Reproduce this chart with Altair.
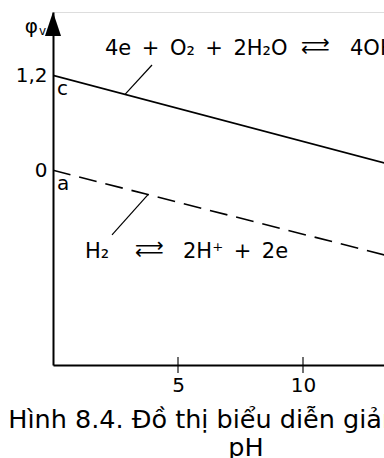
import altair as alt
import pandas as pd

# pH span of the two equilibrium lines
ph_ends = [0, 14]
# O2 / H2O couple (solid) and H2 / H+ couple (dashed), potential in V
phi_oxygen = [1.2, 0.03]
phi_hydrogen = [0.0, -1.13]

# axis values
x_tick_values = [5, 10]
y_label_values = [0, 1.2]

# reaction labels: left side, right side (en spaces keep the wide gaps)
oxygen_parts = ["4e\u2002+\u2002O\u2082\u2002+\u20022H\u2082O", "4OH\u207b"]
hydrogen_parts = ["H\u2082", "2H\u207a\u2002+\u20022e"]
reaction_ph = [2.08, 1.28]
reaction_phi = [1.457, -1.11]

# leader lines from each label to its line
leader_ph = [3.96, 2.36]
leader_phi = [1.33, -0.817]
leader_end_ph = [2.88, 3.8]
leader_end_phi = [0.96, -0.307]

# letters marking the start of each line
point_text = ["c", "a"]
point_ph = [0, 0]
point_phi = [1.2, 0.0]

caption = ["H\u00ecnh 8.4. \u0110\u1ed3 th\u1ecb bi\u1ec3u di\u1ec5n gi\u1ea3n \u0111\u1ed3 \u03c6 \u2013", "pH"]

x_domain = [0, 13.24]
y_domain = [-2.46, 2.0]

W, H = 331, 353
FONT = "DejaVu Sans"

lines = pd.DataFrame({
    "pH": ph_ends * 2,
    "phi": phi_oxygen + phi_hydrogen,
    "couple": ["O2"] * 2 + ["H2"] * 2,
})
leaders = pd.DataFrame({"pH": leader_ph, "phi": leader_phi,
                        "pH2": leader_end_ph, "phi2": leader_end_phi})
points = pd.DataFrame({"text": point_text, "pH": point_ph, "phi": point_phi})
ticks = pd.DataFrame({"pH": x_tick_values, "phi": [y_domain[0]] * len(x_tick_values)})

x_scale = alt.Scale(domain=x_domain, nice=False, zero=False)
y_scale = alt.Scale(domain=y_domain, nice=False, zero=False)

x_axis = alt.Axis(values=x_tick_values, ticks=False, tickSize=0, grid=False,
                  domainColor="black", domainWidth=2, labelFont=FONT,
                  labelFontSize=20, labelColor="black", labelPadding=10, title=None)
y_axis = alt.Axis(values=y_label_values, ticks=False, tickSize=0, grid=False,
                  domainColor="black", domainWidth=2, labelFont=FONT,
                  labelFontSize=20, labelColor="black", labelPadding=6,
                  labelExpr="replace(format(datum.value, '.1~f'), '.', ',')", title=None)

X = alt.X("pH:Q", scale=x_scale, axis=x_axis)
Y = alt.Y("phi:Q", scale=y_scale, axis=y_axis)

oxygen = alt.Chart(lines).transform_filter("datum.couple == 'O2'").mark_line(
    color="black", strokeWidth=1.6, clip=True).encode(x=X, y=Y)
hydrogen = alt.Chart(lines).transform_filter("datum.couple == 'H2'").mark_line(
    color="black", strokeWidth=1.6, strokeDash=[18, 9], clip=True).encode(x=X, y=Y)

leader_rules = alt.Chart(leaders).mark_rule(color="black", strokeWidth=1.2).encode(
    x=X, y=Y, x2="pH2:Q", y2="phi2:Q")

tick_marks = alt.Chart(ticks).mark_tick(
    orient="vertical", size=16, thickness=1.6, color="black", clip=False).encode(x=X, y=Y)

# arrow head on top of the potential axis
px_per_unit = H / (y_domain[1] - y_domain[0])
arrow = alt.Chart(pd.DataFrame({"pH": [x_domain[0]], "phi": [y_domain[1] - 12 / px_per_unit]})).mark_point(
    shape="M0,-1L0.67,1L-0.67,1Z", size=576, filled=True, color="black",
    opacity=1, strokeWidth=0, clip=False).encode(x=X, y=Y)


def text_at(ph, phi, text, dx=0, dy=0, size=20, align="left", line_height=None):
    anchor = pd.DataFrame({"pH": [ph], "phi": [phi]})
    extra = {"lineHeight": line_height} if line_height else {}
    return alt.Chart(anchor).mark_text(
        align=align, baseline="alphabetic", font=FONT, fontSize=size, color="black",
        dx=dx, dy=dy, clip=False, **extra).encode(x=X, y=Y, text=alt.value(text))


def equilibrium_arrow(ph, phi, dx):
    # forward arrow over the reverse one, as one two-line text
    return text_at(ph, phi, ["\u27f6", "\u27f5"], dx=dx, dy=-6, size=20, line_height=7)


reaction_layers = [
    text_at(reaction_ph[0], reaction_phi[0], oxygen_parts[0], size=21),
    equilibrium_arrow(reaction_ph[0], reaction_phi[0], 196),
    text_at(reaction_ph[0], reaction_phi[0], oxygen_parts[1], dx=245, size=21),
    text_at(reaction_ph[1], reaction_phi[1], hydrogen_parts[0], size=21),
    equilibrium_arrow(reaction_ph[1], reaction_phi[1], 50),
    text_at(reaction_ph[1], reaction_phi[1], hydrogen_parts[1], dx=98, size=21),
]

point_labels = alt.Chart(points).mark_text(
    align="left", baseline="alphabetic", font=FONT, fontSize=20, color="black",
    dx=4, dy=20).encode(x=X, y=Y, text="text:N")

phi_label = text_at(x_domain[0], y_domain[1], "\u03c6", dx=-15, dy=21, size=20, align="right")
unit_label = text_at(x_domain[0], y_domain[1], "v", dx=-14, dy=23, size=12)

chart = alt.layer(
    oxygen, hydrogen, leader_rules, tick_marks, arrow,
    *reaction_layers, point_labels, phi_label, unit_label,
).properties(
    width=W, height=H,
    autosize=alt.AutoSizeParams(type="none"),
    padding={"left": 53, "top": 12, "right": 0, "bottom": 93},
    title=alt.TitleParams(
        text=caption, orient="bottom", anchor="middle", align="center", dx=27.5, offset=13,
        font=FONT, fontSize=25.5, fontWeight="normal", lineHeight=28, color="black",
    ),
).configure_view(stroke=None).configure(background="white")

chart.save("out.html", embed_options={"renderer": "svg", "actions": False})
